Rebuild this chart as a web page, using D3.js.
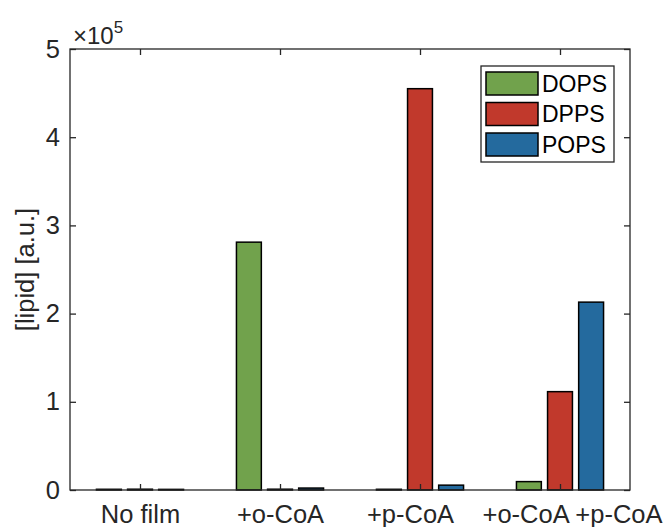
<!DOCTYPE html>
<html lang="en">
  <head>
    <meta charset="utf-8">
    <title>lipid bars</title>
    <script src="https://cdn.jsdelivr.net/npm/d3@7"></script>
    <style type="text/css">
      body { margin: 0; background: #fff; }
      .tickLabel { font-family: Arial, "Liberation Sans", sans-serif; font-size: 25.5px; fill: #262626; }
      .legendText { font-family: Arial, "Liberation Sans", sans-serif; font-size: 23px; fill: #000; }
      .axis path, .axis line { stroke: #262626; stroke-width: 1.3; }
    </style>
  </head>
  <body>
    <svg id="chart" width="667" height="527"></svg>
    <script type="text/javascript">
      var categories = ["No film", "+o-CoA", "+p-CoA", "+o-CoA +p-CoA"];
      var seriesNames = ["DOPS", "DPPS", "POPS"];
      var dops = [800, 281000, 800, 9500];
      var dpps = [900, 900, 455000, 111500];
      var pops = [700, 2200, 5500, 213000];
      var yTicks = [0, 100000, 200000, 300000, 400000, 500000];
      var colors = ["#71a24c", "#c1392c", "#246a9e"];

      var series = [dops, dpps, pops];

      var svg = d3.select("#chart"),
        margin = {top: 49, right: 37, bottom: 37, left: 70},
        width = +svg.attr("width") - margin.left - margin.right,
        height = +svg.attr("height") - margin.top - margin.bottom;

      // matlab style: groups at 1..n, xlim [0.5, n+0.5]
      var x = d3.scaleLinear().domain([0.5, categories.length + 0.5]).range([0, width]);
      var y = d3.scaleLinear().domain([0, 500000]).range([height, 0]);

      var groupWidth = Math.min(0.8, 3 / 4.5);
      var step = groupWidth / seriesNames.length;
      var barW = step * 0.8;

      var g = svg.append("g")
        .attr("transform", "translate(" + margin.left + "," + margin.top + ")");

      // bars
      series.forEach(function(vals, s) {
        var off = (s - (seriesNames.length - 1) / 2) * step;
        g.selectAll(".bar" + s)
          .data(vals)
          .enter().append("rect")
            .attr("class", "bar" + s)
            .attr("x", function(d, i) { return x(i + 1 + off - barW / 2); })
            .attr("width", x(1 + barW) - x(1))
            .attr("y", function(d) { return y(d); })
            .attr("height", function(d) { return y(0) - y(d); })
            .attr("fill", colors[s])
            .attr("stroke", "#000")
            .attr("stroke-width", 1.5);
      });

      // axes box
      var xTickVals = categories.map(function(d, i) { return i + 1; });
      var xAxis = d3.axisBottom(x).tickValues(xTickVals).tickSize(-6)
        .tickFormat(function(d) { return categories[d - 1]; });
      var xTop = d3.axisTop(x).tickValues(xTickVals).tickSize(-6).tickFormat("");
      var yAxis = d3.axisLeft(y).tickValues(yTicks).tickSize(-6).tickPadding(10)
        .tickFormat(function(d) { return d / 100000; });
      var yRight = d3.axisRight(y).tickValues(yTicks).tickSize(-6).tickFormat("");

      var gx = g.append("g").attr("class", "axis")
        .attr("transform", "translate(0," + height + ")").call(xAxis);
      g.append("g").attr("class", "axis").call(xTop);
      var gy = g.append("g").attr("class", "axis").call(yAxis);
      g.append("g").attr("class", "axis")
        .attr("transform", "translate(" + width + ",0)").call(yRight);

      g.selectAll(".axis path").attr("d", null);
      g.selectAll(".axis .tick text").attr("class", "tickLabel")
        .attr("font-family", null).attr("font-size", null);

      // the long last label pushes its neighbours apart (as matlab did)
      gx.selectAll(".tick text")
        .attr("y", 33).attr("dy", 0)
        .attr("x", function(d) { return d == 3 ? -10 : (d == 4 ? 12 : 0); });

      g.append("rect")
        .attr("x", 0).attr("y", 0)
        .attr("width", width).attr("height", height)
        .attr("fill", "none")
        .attr("stroke", "#262626")
        .attr("stroke-width", 1.3);

      // exponent
      var expo = g.append("text")
        .attr("class", "tickLabel")
        .attr("x", 3)
        .attr("y", -5)
        .style("font-size", "24px");
      expo.append("tspan").text("\u00d710");
      expo.append("tspan").attr("dy", -11).style("font-size", "17px").text("5");

      // y label
      svg.append("text")
        .attr("class", "tickLabel")
        .attr("transform", "translate(34," + (margin.top + height / 2) + ") rotate(-90)")
        .attr("text-anchor", "middle")
        .text("[lipid] [a.u.]");

      // legend
      var leg = svg.append("g").attr("transform", "translate(481,66)");
      leg.append("rect")
        .attr("width", 133).attr("height", 96)
        .attr("fill", "#fff")
        .attr("stroke", "#262626")
        .attr("stroke-width", 1.3);
      seriesNames.forEach(function(name, s) {
        leg.append("rect")
          .attr("x", 5).attr("y", 6 + s * 30.5)
          .attr("width", 52).attr("height", 23)
          .attr("fill", colors[s])
          .attr("stroke", "#000")
          .attr("stroke-width", 1.5);
        leg.append("text")
          .attr("class", "legendText")
          .attr("x", 61).attr("y", 17.5 + s * 30.5)
          .attr("dy", "0.35em")
          .text(name);
      });
    </script>
  </body>
</html>
